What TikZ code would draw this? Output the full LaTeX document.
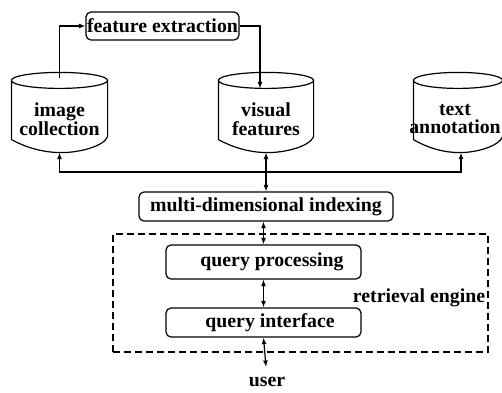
\documentclass[tikz,border=0pt]{standalone}
\usepackage{fontspec}
\setmainfont{Liberation Serif}
\usetikzlibrary{arrows.meta,calc}
\newcommand\drawdb[1]{%
 \draw let \p1=(#1.north west), \p2=(#1.south east), \n1={(\x2-\x1)/2} in
   (\x1+\n1,\y1-8pt) ellipse [x radius=\n1, y radius=8pt]
   (\x1,\y1-8pt) -- (\x1,\y2+13pt)
   .. controls (\x1+0.35*\n1,\y2+4pt) and (\x1+0.7*\n1,\y2) .. (\x1+\n1+2pt,\y2)
   .. controls (\x1+1.4*\n1,\y2) and (\x2-4pt,\y2+6pt) .. (\x2,\y2+16pt)
   -- (\x2,\y1-8pt);}
\begin{document}
\begin{tikzpicture}[x=1pt,y=-1pt,line width=1.2pt,
  txt/.style={font=\fontsize{19.8}{18.5}\selectfont\bfseries},
  proc/.style={draw,rounded corners=5pt,txt,inner sep=0pt},
  dbnode/.style={minimum width=#1,minimum height=79pt,inner sep=0pt},
  dblabel/.style={txt,align=center,yshift=-6.5pt},
  arr/.style={-{Latex[length=6.5pt,width=5pt]}},
  darr/.style={{Latex[length=6.5pt,width=5pt]}-{Latex[length=6.5pt,width=5pt]}},
  engbox/.style={draw,dash pattern=on 7pt off 4pt,line width=1.1pt,inner sep=0pt}]
\useasboundingbox (0,0) rectangle (502,392);
% databases
\node[dbnode=95pt,label={[dblabel]center:image\\collection}] (ic) at (59.5,112.5) {};
\node[dbnode=94pt,label={[dblabel]center:visual\\features}] (vf) at (266,112.5) {};
\node[dbnode=88pt,label={[dblabel,xshift=-3pt]center:text\\annotation}] (ta) at (458,112.5) {};
\drawdb{ic}\drawdb{vf}\drawdb{ta}
% process boxes
\node[proc,minimum width=153pt,minimum height=28pt] (fe) at (162.5,26) {feature extraction};
\node[proc,minimum width=254pt,minimum height=29pt] (mdi) at (266,206.5) {multi-dimensional indexing};
\node[engbox,minimum width=375pt,minimum height=118pt] (eng) at (300.5,293) {};
\node[txt] (engl) at (419,298) {retrieval engine};
\node[proc,fill=white,minimum width=195pt,minimum height=34pt] (qp) at (263.5,262) {\hspace{17pt}query processing};
\node[proc,fill=white,minimum width=195pt,minimum height=29pt] (qi) at (263.5,322.5) {\hspace{13pt}query interface};
\node[txt] (user) at (267,382) {user};
\coordinate (hub) at (266,172);
\coordinate (uend) at (266,367);
% connectors
\draw[arr] ($(ic.north)+(0,6)$) |- (fe.west);
\draw[arr] (fe.east) -| ($(vf.north)+(-6,16)$);
\draw[arr] (hub) -| (ic.south);
\draw[arr] (hub) -| ($(ta.south)+(3,0)$);
\draw[darr] (vf.south) -- (mdi.north);
\draw[darr] (mdi.south -| qp.north) -- (qp.north);
\draw[darr] (qp.south) -- (qi.north);
\draw[darr] (qi.south) -- (uend);
\end{tikzpicture}
\end{document}
